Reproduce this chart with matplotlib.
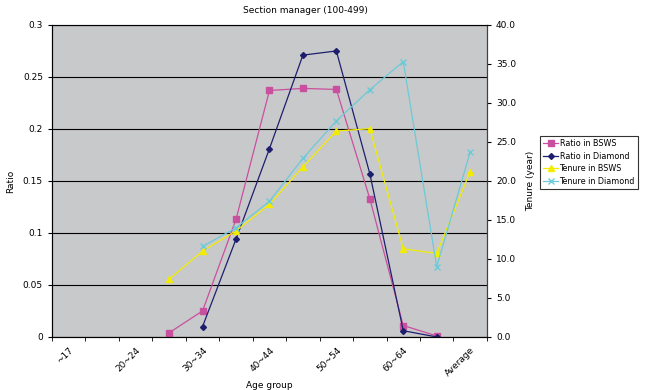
import matplotlib
matplotlib.use("Agg")
import matplotlib.pyplot as plt
import numpy as np

nan = np.nan

# Age groups (13 categories, every other one labelled)
categories = ["~17", "18~19", "20~24", "25~29", "30~34", "35~39", "40~44",
              "45~49", "50~54", "55~59", "60~64", "65~", "Average"]

ratio_bsws    = [nan, nan, nan, 0.004, 0.025, 0.113, 0.237, 0.239, 0.238,
                 0.133, 0.011, 0.001, nan]
ratio_diamond = [nan, nan, nan, nan, 0.010, 0.094, 0.181, 0.271, 0.275,
                 0.157, 0.006, 0.000, nan]
tenure_bsws    = [nan, nan, nan, 7.4, 11.0, 13.6, 17.0, 21.8, 26.4,
                  26.7, 11.3, 10.7, 21.2]
tenure_diamond = [nan, nan, nan, nan, 11.6, 14.0, 17.4, 22.9, 27.7,
                  31.7, 35.3, 9.0, 23.7]

C_PINK = "#C8509E"
C_NAVY = "#1E1E6E"
C_YELLOW = "#F2EC00"
C_CYAN = "#6CCAD8"

plt.rcParams["font.family"] = ["DejaVu Sans"]
plt.rcParams["font.size"] = 6.5

fig = plt.figure(figsize=(6.54, 3.9), dpi=100)
ax = fig.add_axes([0.0795, 0.136, 0.665, 0.800])
ax.set_facecolor("#C8C9CB")

x = np.arange(len(categories))

l1, = ax.plot(x, ratio_bsws, color=C_PINK, marker="s", markersize=4.5,
              linewidth=0.9, label="Ratio in BSWS")
l2, = ax.plot(x, ratio_diamond, color=C_NAVY, marker="D", markersize=3,
              linewidth=0.9, label="Ratio in Diamond")

ax.set_xlim(-0.5, len(categories) - 0.5)
ax.set_ylim(0, 0.3)
ax.set_yticks([0, 0.05, 0.1, 0.15, 0.2, 0.25, 0.3])
ax.set_yticklabels(["0", "0.05", "0.1", "0.15", "0.2", "0.25", "0.3"])
ax.yaxis.grid(True, color="black", linewidth=0.8)
ax.set_axisbelow(True)

ax.set_xticks(x[::2])
ax.set_xticklabels(categories[::2], rotation=45, ha="right",
                   rotation_mode="anchor")
ax.tick_params(axis="x", which="major", length=0, pad=6)
ax.set_xticks(np.arange(-0.5, len(categories)), minor=True)
ax.tick_params(axis="x", which="minor", length=3, direction="out")
ax.tick_params(axis="y", length=3, direction="out")

for s in ax.spines.values():
    s.set_color("#404040")
    s.set_linewidth(0.8)
ax.spines["top"].set_color("#808080")

ax2 = ax.twinx()
l3, = ax2.plot(x, tenure_bsws, color=C_YELLOW, marker="^", markersize=4.5,
               linewidth=0.9, label="Tenure in BSWS")
l4, = ax2.plot(x, tenure_diamond, color=C_CYAN, marker="x", markersize=4.5,
               linewidth=0.9, label="Tenure in Diamond")
ax2.set_ylim(0, 40)
ax2.set_yticks(np.arange(0, 41, 5))
ax2.set_yticklabels([f"{v:.1f}" for v in np.arange(0, 41, 5)])
ax2.tick_params(axis="y", length=3, direction="out")
ax2.spines["right"].set_color("#404040")

ax.set_ylabel("Ratio")
ax.yaxis.set_label_coords(-0.085, 0.5)
ax2.set_ylabel("Tenure (year)")
ax2.yaxis.set_label_coords(1.09, 0.5)
ax.set_xlabel("Age group", labelpad=2)

fig.text(0.467, 0.972, "Section manager (100-499)", ha="center", va="center",
         fontsize=6.5)

leg = fig.legend(handles=[l1, l2, l3, l4], loc="upper left",
                 bbox_to_anchor=(0.826, 0.652), fontsize=5.8, frameon=True,
                 fancybox=False, edgecolor="black", handlelength=1.8,
                 handletextpad=0.2, borderpad=0.4, labelspacing=0.45,
                 borderaxespad=0)
leg.get_frame().set_linewidth(0.8)

fig.savefig("out.png", dpi=100, facecolor="white")
